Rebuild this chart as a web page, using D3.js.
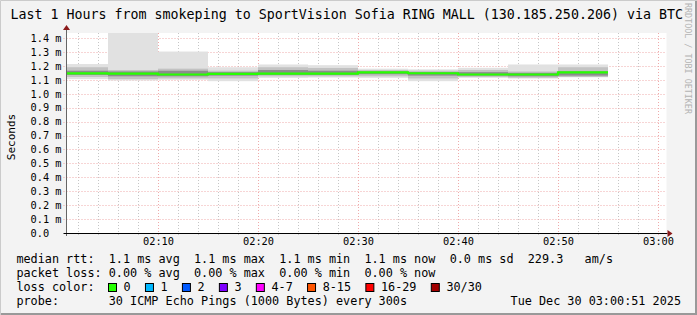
<!DOCTYPE html>
<html>
<head>
<meta charset="utf-8">
<script src="https://cdn.jsdelivr.net/npm/d3@7"></script>
<style>
  body { margin: 0; background: #f3f3f3; }
  text { font-family: "DejaVu Sans Mono", monospace; white-space: pre; }
</style>
</head>
<body>
<div id="chart"></div>
<script>
/*********************************************************/
// Data (values in ms), one 5 minute bin each
const binStarts = ["02:00", "02:05", "02:10", "02:15", "02:20", "02:25", "02:30", "02:35", "02:40", "02:45", "02:50"];
const pingMax   = [1.213, 1.450, 1.303, 1.190, 1.210, 1.205, 1.180, 1.175, 1.186, 1.210, 1.210];
const pingP90   = [1.190, 1.170, 1.180, 1.165, 1.190, 1.185, 1.170, 1.165, 1.170, 1.160, 1.190];
const pingP75   = [1.165, 1.160, 1.165, 1.155, 1.170, 1.165, 1.160, 1.155, 1.155, 1.150, 1.160];
const median    = [1.146, 1.145, 1.138, 1.143, 1.145, 1.145, 1.154, 1.147, 1.138, 1.138, 1.153];
const pingP25   = [1.135, 1.125, 1.125, 1.130, 1.135, 1.135, 1.140, 1.130, 1.130, 1.125, 1.130];
const pingP10   = [1.120, 1.105, 1.110, 1.110, 1.125, 1.125, 1.125, 1.110, 1.120, 1.115, 1.120];
const pingMin   = [1.105, 1.095, 1.100, 1.090, 1.114, 1.116, 1.114, 1.090, 1.114, 1.109, 1.118];

const yTicks = [0.0, 0.1, 0.2, 0.3, 0.4, 0.5, 0.6, 0.7, 0.8, 0.9, 1.0, 1.1, 1.2, 1.3, 1.4];
const xTickLabels = ["02:10", "02:20", "02:30", "02:40", "02:50", "03:00"];

const lossLabels = ["0", "1", "2", "3", "4-7", "8-15", "16-29", "30/30"];
const lossColors = ["#26ff00", "#00b8ff", "#0059ff", "#7e00ff", "#ff00ff", "#ff5500", "#ff0000", "#a10000"];

const titleText = "Last 1 Hours from smokeping to SportVision Sofia RING MALL (130.185.250.206) via BTC";
const legendLines = [
  "median rtt:  1.1 ms avg  1.1 ms max  1.1 ms min  1.1 ms now  0.0 ms sd  229.3   am/s",
  "packet loss: 0.00 % avg  0.00 % max  0.00 % min  0.00 % now",
  "loss color:",
  "probe:       30 ICMP Echo Pings (1000 Bytes) every 300s"
];
const stampText = "Tue Dec 30 03:00:51 2025";

/*********************************************************/
const svgWidth = 697;
const svgHeight = 315;
const plot = { left: 66.5, right: 666.5, top: 33, bottom: 233 };
const charW = 7.12;

const parseT = d3.timeParse("%H:%M:%S");
const parseHM = d3.timeParse("%H:%M");
const tStart = parseT("02:00:51");
const tEnd = parseT("03:00:51");

const xScale = d3.scaleTime().domain([tStart, tEnd]).range([plot.left, plot.right]);
const yScale = d3.scaleLinear().domain([0, 1.436]).range([plot.bottom, plot.top]);

const svg = d3.select("#chart")
  .append("svg")
  .attr("width", svgWidth)
  .attr("height", svgHeight);

// background + 3d frame
svg.append("rect").attr("width", svgWidth).attr("height", svgHeight).attr("fill", "#f3f3f3");
svg.append("path").attr("d", `M0.5,${svgHeight} V0.5 H${svgWidth}`).attr("stroke", "#cbcbcb").attr("fill", "none");
svg.append("path").attr("d", `M1,${svgHeight - 1} H${svgWidth - 1} V1`).attr("stroke", "#999999").attr("stroke-width", 2).attr("fill", "none");

// canvas
svg.append("rect")
  .attr("x", plot.left).attr("y", plot.top)
  .attr("width", plot.right - plot.left).attr("height", plot.bottom - plot.top)
  .attr("fill", "#ffffff");

svg.append("clipPath").attr("id", "clip")
  .append("rect")
  .attr("x", plot.left).attr("y", plot.top)
  .attr("width", plot.right - plot.left).attr("height", plot.bottom - plot.top);

/********** grid **********/
const minorTimes = d3.timeMinute.every(2).range(parseT("02:01:00"), tEnd);
const majorTimes = xTickLabels.map(parseHM);

svg.append("g").selectAll("line")
  .data(minorTimes.filter(t => t.getMinutes() % 10 !== 0))
  .enter().append("line")
  .attr("x1", d => Math.round(xScale(d)) + 0.5).attr("x2", d => Math.round(xScale(d)) + 0.5)
  .attr("y1", plot.top).attr("y2", plot.bottom + 2)
  .attr("stroke", "#c6c6c6").attr("stroke-dasharray", "1,2");

svg.append("g").selectAll("line")
  .data(yTicks.slice(1))
  .enter().append("line")
  .attr("x1", plot.left - 3).attr("x2", plot.right)
  .attr("y1", d => Math.round(yScale(d)) + 0.5).attr("y2", d => Math.round(yScale(d)) + 0.5)
  .attr("stroke", "#eeaaaa").attr("stroke-dasharray", "1,2");

svg.append("g").selectAll("line")
  .data(majorTimes)
  .enter().append("line")
  .attr("x1", d => Math.round(xScale(d)) + 0.5).attr("x2", d => Math.round(xScale(d)) + 0.5)
  .attr("y1", plot.top).attr("y2", plot.bottom + 3)
  .attr("stroke", "#eeaaaa").attr("stroke-dasharray", "1,2");

/********** smoke **********/
const bins = binStarts.map((s, i) => ({
  t0: parseHM(s), t1: d3.timeMinute.offset(parseHM(s), 5),
  max: pingMax[i], p90: pingP90[i], p75: pingP75[i], med: median[i],
  p25: pingP25[i], p10: pingP10[i], min: pingMin[i]
}));

const smoke = svg.append("g").attr("clip-path", "url(#clip)");
const bands = [
  { lo: "min", hi: "max", color: "#e1e1e1" },
  { lo: "p10", hi: "p90", color: "#c2c2c2" },
  { lo: "p25", hi: "p75", color: "#8c8c8c" }
];
bands.forEach(b => {
  smoke.selectAll(null)
    .data(bins)
    .enter().append("rect")
    .attr("x", d => Math.max(plot.left, xScale(d.t0)))
    .attr("width", d => xScale(d.t1) - Math.max(plot.left, xScale(d.t0)))
    .attr("y", d => yScale(d[b.hi]))
    .attr("height", d => yScale(d[b.lo]) - yScale(d[b.hi]))
    .attr("fill", b.color);
});

// median line, loss colour 0
const medLine = [];
bins.forEach(d => {
  medLine.push([d.t0, d.med]);
  medLine.push([d.t1, d.med]);
});
smoke.append("path")
  .datum(medLine)
  .attr("d", d3.line().x(d => Math.max(plot.left, xScale(d[0]))).y(d => yScale(d[1])))
  .attr("fill", "none")
  .attr("stroke", lossColors[0])
  .attr("stroke-width", 2.2);

/********** axes **********/
svg.append("line")
  .attr("x1", plot.left).attr("x2", plot.left)
  .attr("y1", plot.bottom + 3).attr("y2", plot.top - 3)
  .attr("stroke", "#666666");
svg.append("line")
  .attr("x1", plot.left - 3).attr("x2", plot.right + 1)
  .attr("y1", plot.bottom + 0.5).attr("y2", plot.bottom + 0.5)
  .attr("stroke", "#000000");
svg.append("path")
  .attr("d", `M${plot.left - 3.5},${plot.top - 3} L${plot.left},${plot.top - 8} L${plot.left + 3.5},${plot.top - 3} Z`)
  .attr("fill", "#8b1a1a");
svg.append("path")
  .attr("d", `M${plot.right + 1},${plot.bottom - 3} L${plot.right + 6},${plot.bottom + 0.5} L${plot.right + 1},${plot.bottom + 4} Z`)
  .attr("fill", "#8b1a1a");

// y tick labels
svg.append("g").selectAll("text")
  .data(yTicks)
  .enter().append("text")
  .attr("x", 30.5)
  .attr("y", d => yScale(d) + 3.8)
  .attr("font-size", "10.3px")
  .attr("fill", "#000")
  .text(d => d === 0 ? d.toFixed(1) : d.toFixed(1) + " m");

// x tick labels
svg.append("g").selectAll("text")
  .data(majorTimes)
  .enter().append("text")
  .attr("x", d => xScale(d) + 0.5)
  .attr("y", 245)
  .attr("text-anchor", "middle")
  .attr("font-size", "10.3px")
  .attr("fill", "#000")
  .text((d, i) => xTickLabels[i]);

// y axis title
svg.append("text")
  .attr("transform", "translate(15,137) rotate(-90)")
  .attr("text-anchor", "middle")
  .attr("font-size", "11px")
  .text("Seconds");

/********** title, watermark **********/
svg.append("text")
  .attr("x", 10.5).attr("y", 18.5)
  .attr("font-size", "13.3px")
  .text(titleText);

svg.append("text")
  .attr("transform", "translate(685,3) rotate(90)")
  .attr("font-size", "8.4px")
  .attr("fill", "#b4b4b4")
  .text("RRDTOOL / TOBI OETIKER");

/********** legend **********/
svg.append("g").selectAll("text")
  .data(legendLines)
  .enter().append("text")
  .attr("x", 16.4)
  .attr("y", (d, i) => 263 + i * 14)
  .attr("font-size", "11.8px")
  .text(d => d);

let cursor = 108;
lossLabels.forEach((lab, i) => {
  svg.append("rect")
    .attr("x", cursor + 0.5).attr("y", 283.5)
    .attr("width", 8).attr("height", 8)
    .attr("fill", lossColors[i])
    .attr("stroke", "#000");
  const tx = cursor + 15.6;
  svg.append("text")
    .attr("x", tx).attr("y", 291)
    .attr("font-size", "11.8px")
    .text(lab);
  cursor = tx + (lab.length + 2) * charW;
});

svg.append("text")
  .attr("x", 681).attr("y", 305)
  .attr("text-anchor", "end")
  .attr("font-size", "11.8px")
  .text(stampText);
</script>
</body>
</html>
